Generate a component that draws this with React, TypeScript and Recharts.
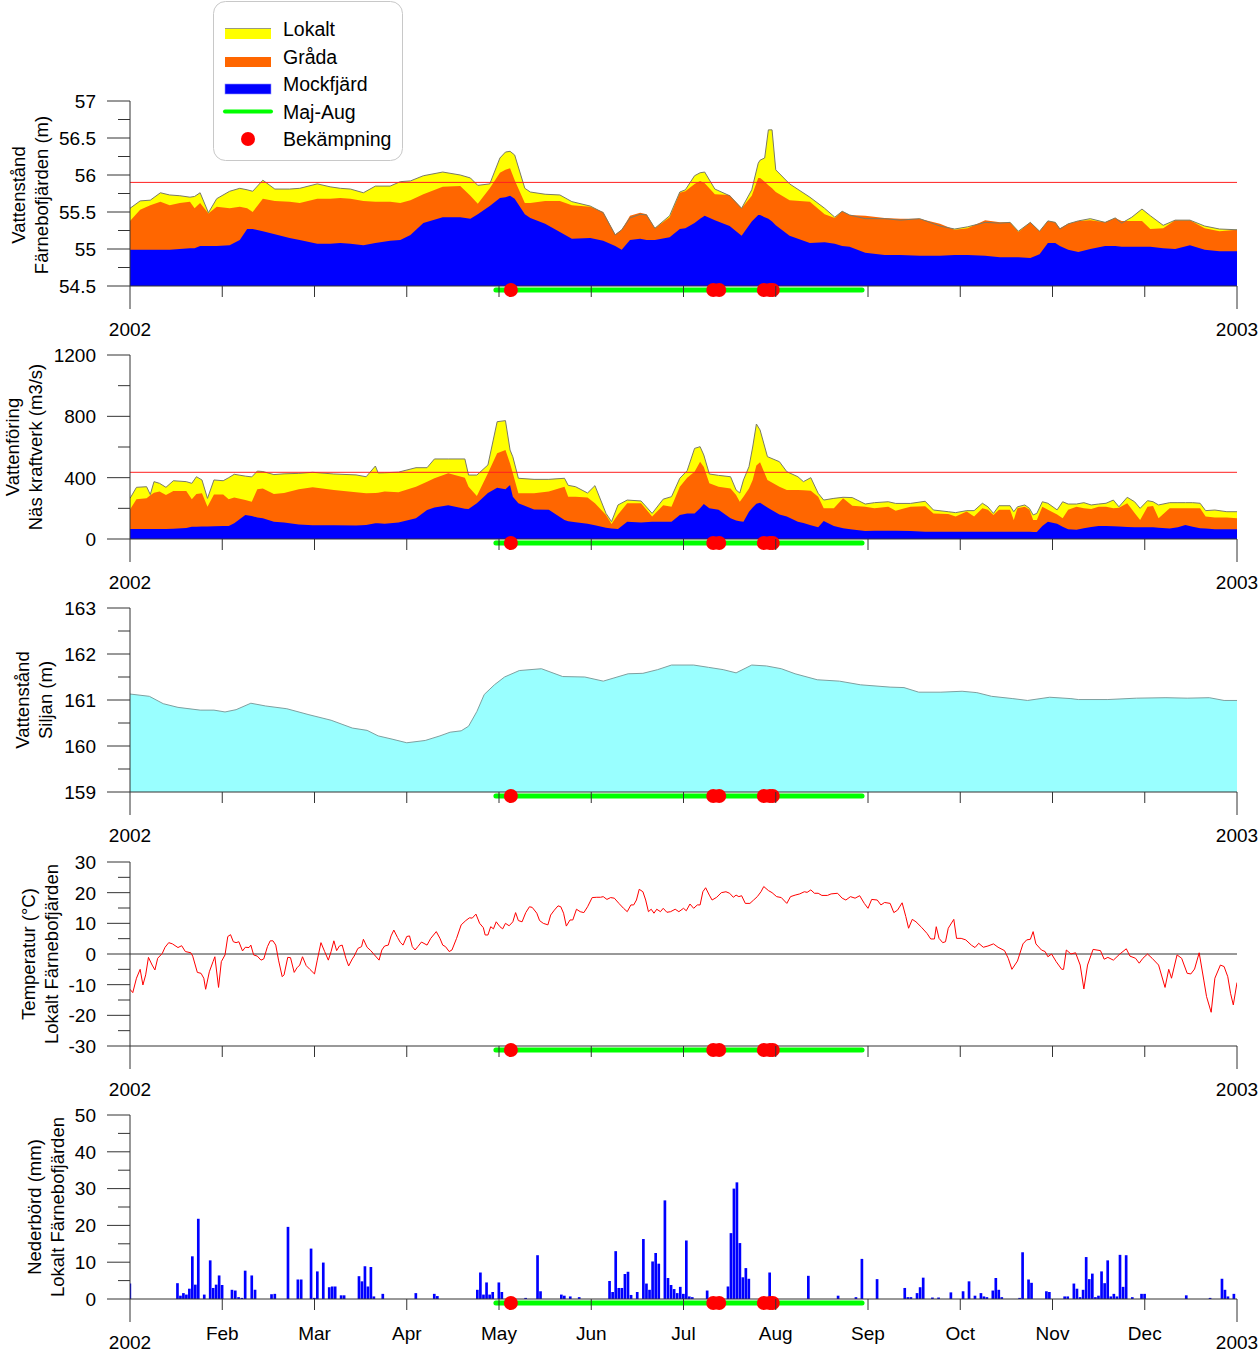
import React from 'react';
import { ComposedChart, Area, Line, Bar, XAxis, YAxis, ReferenceLine, ReferenceDot } from 'recharts';

const FONT = '"Liberation Sans", Arial, Helvetica, sans-serif';
const AXIS = '#333333';

// time axis: each month drawn equally wide, t = months since 1 Jan 2002
const MONTH_DAYS = [31, 28, 31, 30, 31, 30, 31, 31, 30, 31, 30, 31];
const MONTH_TICKS = [0, 1, 2, 3, 4, 5, 6, 7, 8, 9, 10, 11, 12];
const MONTH_LABELS = ['2002', 'Feb', 'Mar', 'Apr', 'May', 'Jun', 'Jul', 'Aug', 'Sep', 'Oct', 'Nov', 'Dec', '2003'];
const monthPos = (md: string) => {
  const [m, d] = md.split('-').map(Number);
  return m - 1 + (d - 1) / MONTH_DAYS[m - 1];
};

const majAug = ['04-30', '08-30'];
const treatDates = ['05-05', '07-11', '07-13', '07-28', '07-30', '07-31'];
const legendNames = ['Lokalt', 'Gråda', 'Mockfjärd', 'Maj-Aug', 'Bekämpning'];

// ---- Vattenstånd Färnebofjärden (m)
const farnLimit = 55.9;
const p1T = [0, 0.11, 0.22, 0.33, 0.43, 0.54, 0.65, 0.70, 0.76, 0.85,
  0.94, 1.08, 1.19, 1.27, 1.33, 1.44, 1.57, 1.73, 1.84, 2.03,
  2.17, 2.28, 2.39, 2.53, 2.66, 2.82, 2.93, 3.04, 3.18, 3.39,
  3.58, 3.69, 3.77, 3.90, 4.01, 4.07, 4.12, 4.17, 4.28, 4.34,
  4.50, 4.66, 4.79, 4.99, 5.13, 5.26, 5.33, 5.42, 5.53, 5.60,
  5.69, 5.85, 5.96, 6.02, 6.12, 6.18, 6.23, 6.34, 6.50, 6.63,
  6.74, 6.81, 6.83, 6.88, 6.92, 6.96, 7.00, 7.15, 7.37, 7.53,
  7.64, 7.72, 7.80, 7.97, 8.18, 8.35, 8.56, 8.78, 8.94, 9.08,
  9.27, 9.43, 9.54, 9.63, 9.76, 9.86, 9.95, 10.03, 10.08, 10.17,
  10.28, 10.41, 10.57, 10.68, 10.75, 10.86, 10.97, 11.06, 11.20, 11.33,
  11.49, 11.65, 11.81, 12];
const p1Lokalt = [55.55, 55.65, 55.66, 55.76, 55.73, 55.72, 55.70, 55.71, 55.76, 55.49,
  55.68, 55.78, 55.82, 55.80, 55.78, 55.93, 55.81, 55.81, 55.82, 55.88,
  55.84, 55.82, 55.81, 55.76, 55.85, 55.85, 55.91, 55.92, 55.99, 56.04,
  56.00, 55.96, 55.86, 55.88, 56.23, 56.31, 56.32, 56.27, 55.82, 55.77,
  55.74, 55.73, 55.64, 55.58, 55.49, 55.19, 55.26, 55.42, 55.47, 55.46,
  55.28, 55.45, 55.77, 55.80, 55.99, 56.03, 56.04, 55.81, 55.72, 55.55,
  55.80, 56.16, 56.20, 56.23, 56.61, 56.61, 56.07, 55.88, 55.70, 55.55,
  55.43, 55.51, 55.46, 55.41, 55.41, 55.39, 55.41, 55.31, 55.27, 55.30,
  55.36, 55.35, 55.36, 55.24, 55.36, 55.24, 55.38, 55.36, 55.27, 55.34,
  55.38, 55.41, 55.36, 55.42, 55.35, 55.43, 55.54, 55.45, 55.32, 55.39,
  55.39, 55.31, 55.27, 55.26];
const p1Grada = [55.38, 55.53, 55.59, 55.64, 55.59, 55.62, 55.64, 55.55, 55.62, 55.48,
  55.57, 55.55, 55.57, 55.55, 55.50, 55.68, 55.65, 55.64, 55.62, 55.68,
  55.68, 55.69, 55.68, 55.65, 55.64, 55.64, 55.62, 55.66, 55.74, 55.84,
  55.85, 55.72, 55.61, 55.82, 56.03, 56.07, 56.09, 55.93, 55.62, 55.62,
  55.65, 55.65, 55.59, 55.57, 55.50, 55.20, 55.26, 55.45, 55.49, 55.47,
  55.28, 55.43, 55.76, 55.78, 55.88, 55.92, 55.89, 55.74, 55.73, 55.55,
  55.72, 55.96, 55.96, 55.91, 55.86, 55.82, 55.77, 55.66, 55.64, 55.47,
  55.42, 55.51, 55.46, 55.45, 55.42, 55.41, 55.41, 55.34, 55.26, 55.28,
  55.39, 55.36, 55.36, 55.23, 55.36, 55.24, 55.38, 55.36, 55.28, 55.34,
  55.38, 55.39, 55.36, 55.42, 55.38, 55.38, 55.38, 55.27, 55.28, 55.39,
  55.39, 55.28, 55.24, 55.26];
const p1Mock = [54.99, 54.99, 54.99, 54.99, 54.99, 55.00, 55.01, 55.01, 55.04, 55.04,
  55.04, 55.05, 55.12, 55.27, 55.27, 55.24, 55.20, 55.15, 55.12, 55.07,
  55.07, 55.08, 55.07, 55.05, 55.08, 55.11, 55.12, 55.19, 55.35, 55.43,
  55.43, 55.41, 55.47, 55.58, 55.69, 55.70, 55.72, 55.68, 55.47, 55.42,
  55.34, 55.23, 55.14, 55.15, 55.11, 55.04, 54.99, 55.12, 55.14, 55.12,
  55.12, 55.16, 55.27, 55.28, 55.35, 55.41, 55.45, 55.39, 55.31, 55.18,
  55.37, 55.46, 55.46, 55.43, 55.41, 55.37, 55.32, 55.18, 55.08, 55.09,
  55.07, 55.04, 55.03, 54.95, 54.92, 54.92, 54.91, 54.91, 54.92, 54.92,
  54.91, 54.89, 54.89, 54.89, 54.88, 54.93, 55.08, 55.08, 55.04, 54.99,
  54.96, 55.00, 55.04, 55.04, 55.03, 55.03, 55.03, 55.03, 55.01, 55.00,
  55.05, 54.99, 54.97, 54.97];

// ---- Vattenföring Näs kraftverk (m3/s)
const nasLimit = 435;
const p2T = [0, 0.07, 0.18, 0.22, 0.26, 0.32, 0.39, 0.47, 0.61, 0.67,
  0.72, 0.78, 0.84, 0.91, 1.01, 1.07, 1.13, 1.25, 1.32, 1.38,
  1.44, 1.56, 1.67, 1.83, 1.98, 2.21, 2.45, 2.56, 2.66, 2.69,
  2.76, 2.91, 3.10, 3.22, 3.30, 3.45, 3.63, 3.67, 3.76, 3.88,
  3.98, 4.07, 4.12, 4.15, 4.21, 4.38, 4.54, 4.71, 4.75, 4.83,
  4.96, 5.04, 5.16, 5.22, 5.29, 5.39, 5.54, 5.66, 5.78, 5.87,
  5.96, 6.04, 6.12, 6.18, 6.22, 6.28, 6.38, 6.51, 6.57, 6.61,
  6.65, 6.71, 6.75, 6.79, 6.83, 6.91, 7.04, 7.12, 7.24, 7.30,
  7.38, 7.46, 7.52, 7.63, 7.73, 7.83, 7.97, 8.07, 8.22, 8.30,
  8.46, 8.62, 8.71, 8.87, 8.95, 9.07, 9.15, 9.24, 9.30, 9.36,
  9.42, 9.54, 9.58, 9.62, 9.70, 9.75, 9.79, 9.83, 9.89, 9.95,
  10.05, 10.11, 10.17, 10.26, 10.34, 10.42, 10.50, 10.58, 10.66, 10.72,
  10.81, 10.89, 10.95, 11.03, 11.09, 11.15, 11.27, 11.36, 11.44, 11.52,
  11.60, 11.66, 11.76, 11.89, 12];
const p2Lokalt = [265, 337, 341, 290, 374, 363, 337, 380, 374, 363,
  406, 385, 265, 385, 380, 400, 422, 410, 405, 443,
  440, 420, 425, 428, 435, 424, 418, 406, 476, 431,
  432, 436, 465, 465, 522, 522, 522, 417, 417, 483,
  765, 772, 580, 536, 396, 389, 389, 396, 350, 341,
  300, 348, 167, 113, 222, 254, 248, 167, 260, 276,
  396, 446, 591, 602, 548, 424, 415, 406, 320, 300,
  385, 472, 600, 750, 711, 537, 504, 439, 406, 374,
  400, 298, 254, 265, 272, 270, 228, 237, 243, 232,
  232, 246, 189, 178, 172, 185, 185, 233, 210, 167,
  217, 217, 178, 210, 222, 200, 157, 167, 243, 233,
  190, 243, 228, 228, 237, 222, 228, 233, 254, 210,
  272, 243, 200, 250, 243, 222, 237, 237, 237, 237,
  233, 185, 189, 178, 178];
const p2Grada = [193, 259, 265, 285, 302, 309, 287, 313, 313, 259,
  293, 298, 211, 291, 291, 260, 270, 254, 243, 324,
  330, 293, 300, 324, 337, 320, 305, 298, 300, 302,
  310, 305, 340, 374, 396, 428, 400, 341, 280, 428,
  559, 580, 493, 428, 298, 298, 309, 341, 276, 276,
  270, 233, 157, 98, 160, 233, 233, 146, 220, 210,
  341, 400, 439, 504, 470, 363, 341, 330, 287, 243,
  275, 330, 385, 480, 500, 385, 341, 320, 320, 318,
  315, 276, 200, 200, 265, 217, 211, 200, 211, 185,
  211, 214, 167, 163, 146, 180, 146, 200, 190, 157,
  190, 190, 124, 200, 211, 190, 124, 124, 211, 190,
  160, 135, 190, 211, 200, 195, 211, 211, 200, 203,
  233, 170, 124, 210, 215, 135, 200, 200, 200, 200,
  200, 146, 140, 140, 135];
const p2Mock = [65, 65, 65, 65, 65, 65, 65, 67, 72, 80,
  80, 82, 82, 83, 85, 85, 102, 157, 150, 140,
  135, 113, 107, 95, 89, 90, 88, 92, 102, 102,
  100, 108, 135, 189, 205, 220, 198, 196, 233, 300,
  335, 325, 352, 276, 233, 193, 190, 124, 115, 109,
  100, 90, 74, 68, 66, 112, 107, 112, 113, 113,
  157, 167, 167, 200, 228, 200, 190, 135, 120, 115,
  113, 178, 205, 230, 237, 205, 160, 146, 113, 105,
  90, 76, 117, 85, 70, 62, 52, 53, 54, 54,
  52, 48, 48, 48, 48, 48, 48, 48, 48, 48,
  48, 47, 47, 47, 47, 47, 46, 46, 85, 113,
  100, 80, 63, 60, 70, 78, 85, 85, 83, 82,
  78, 76, 76, 76, 76, 74, 68, 76, 91, 80,
  70, 68, 63, 63, 63];

// ---- Vattenstånd Siljan (m)
const p3T = [0, 0.21, 0.36, 0.52, 0.76, 0.91, 1.03, 1.15, 1.31, 1.47,
  1.70, 1.94, 2.18, 2.41, 2.57, 2.69, 2.84, 3.00, 3.20, 3.36,
  3.47, 3.59, 3.67, 3.76, 3.84, 3.95, 4.06, 4.22, 4.46, 4.69,
  4.93, 5.13, 5.40, 5.56, 5.72, 5.87, 6.11, 6.27, 6.43, 6.57,
  6.74, 6.90, 7.06, 7.21, 7.45, 7.69, 7.92, 8.24, 8.39, 8.55,
  8.79, 9.02, 9.18, 9.34, 9.57, 9.73, 9.97, 10.2, 10.28, 10.6,
  10.91, 11.23, 11.46, 11.7, 11.86, 12];
const p3Level = [161.13, 161.08, 160.92, 160.84, 160.78, 160.78, 160.74, 160.79, 160.93, 160.87,
  160.81, 160.68, 160.56, 160.39, 160.34, 160.22, 160.15, 160.07, 160.12, 160.22,
  160.30, 160.33, 160.43, 160.75, 161.12, 161.33, 161.50, 161.64, 161.68, 161.51,
  161.50, 161.41, 161.57, 161.58, 161.66, 161.76, 161.76, 161.71, 161.66, 161.59,
  161.76, 161.74, 161.68, 161.57, 161.44, 161.41, 161.33, 161.28, 161.27, 161.17,
  161.17, 161.19, 161.16, 161.08, 161.03, 160.99, 161.06, 161.03, 161.01, 161.01,
  161.04, 161.05, 161.04, 161.05, 160.99, 160.99];

// ---- Temperatur (°C)
const tempT = [0.00, 0.03, 0.07, 0.11, 0.14, 0.17, 0.20, 0.24, 0.27, 0.30,
  0.35, 0.38, 0.42, 0.46, 0.52, 0.56, 0.60, 0.66, 0.68, 0.73,
  0.77, 0.80, 0.82, 0.86, 0.90, 0.92, 0.96, 0.99, 1.03, 1.06,
  1.09, 1.12, 1.15, 1.18, 1.22, 1.25, 1.29, 1.31, 1.34, 1.38,
  1.42, 1.45, 1.49, 1.52, 1.55, 1.58, 1.61, 1.65, 1.67, 1.71,
  1.74, 1.78, 1.81, 1.84, 1.87, 1.91, 1.95, 2.00, 2.03, 2.07,
  2.11, 2.15, 2.18, 2.21, 2.24, 2.27, 2.30, 2.34, 2.37, 2.41,
  2.43, 2.47, 2.51, 2.53, 2.57, 2.61, 2.65, 2.70, 2.73, 2.76,
  2.80, 2.83, 2.86, 2.90, 2.93, 2.96, 3.00, 3.03, 3.06, 3.09,
  3.12, 3.16, 3.22, 3.26, 3.32, 3.36, 3.39, 3.42, 3.46, 3.49,
  3.54, 3.59, 3.64, 3.68, 3.71, 3.75, 3.79, 3.83, 3.85, 3.88,
  3.91, 3.94, 3.97, 4.01, 4.04, 4.07, 4.11, 4.15, 4.18, 4.21,
  4.25, 4.29, 4.33, 4.36, 4.41, 4.44, 4.48, 4.53, 4.56, 4.60,
  4.64, 4.67, 4.70, 4.73, 4.77, 4.80, 4.84, 4.88, 4.92, 4.96,
  5.01, 5.06, 5.10, 5.13, 5.17, 5.21, 5.25, 5.30, 5.35, 5.39,
  5.43, 5.46, 5.49, 5.52, 5.56, 5.59, 5.62, 5.65, 5.68, 5.71,
  5.75, 5.78, 5.82, 5.86, 5.91, 5.95,
  6.00, 6.03, 6.07, 6.11, 6.15, 6.18, 6.21, 6.24, 6.28, 6.31,
  6.36, 6.41, 6.46, 6.50, 6.54, 6.57, 6.60, 6.63, 6.67, 6.72,
  6.76, 6.80, 6.84, 6.87, 6.92, 6.96, 7.01, 7.06, 7.12, 7.16,
  7.21, 7.26, 7.31, 7.34, 7.38, 7.42, 7.46, 7.50, 7.56, 7.60,
  7.67, 7.72, 7.76, 7.81, 7.86, 7.91, 7.96, 8.00, 8.04, 8.10,
  8.14, 8.18, 8.24, 8.28, 8.32, 8.37, 8.41, 8.44, 8.48, 8.52,
  8.58, 8.64, 8.68, 8.72, 8.74, 8.77, 8.81, 8.84, 8.87, 8.93,
  8.96, 9.01, 9.06, 9.12, 9.16, 9.20, 9.25, 9.30, 9.36, 9.41,
  9.48, 9.52, 9.56, 9.62, 9.68, 9.72, 9.76, 9.79, 9.82, 9.88,
  9.92, 9.95, 9.99, 10.04, 10.10, 10.12, 10.15, 10.20, 10.25, 10.30,
  10.34, 10.38, 10.44, 10.52, 10.56, 10.60, 10.66, 10.73, 10.80, 10.84,
  10.90, 10.94, 10.98, 11.03, 11.08, 11.15, 11.22, 11.26, 11.29, 11.35,
  11.40, 11.46, 11.50, 11.54, 11.59, 11.64, 11.67, 11.72, 11.76, 11.82,
  11.86, 11.90, 11.93, 11.96, 12];
const tempC = [-11.5, -12.6, -7.9, -5, -10.1, -6.8, -1.1, -3.6, -5.2, -1.4,
  0.2, 2.2, 3.7, 3.3, 2.1, 2.7, 0.8, 0.4, -0.7, -6,
  -6.3, -7.9, -11.5, -5.8, -2.5, -0.9, -10.9, -2.5, -0.3, 5.7,
  6.3, 4, 3.7, 4, 1, 2.2, 2.1, 2.9, -0.3, -0.7,
  -2, -1.6, 2.4, 4.3, 4.3, 2.9, -2, -7.4, -6.8, -1.1,
  -1.2, -6, -4.5, -3.6, -0.9, -3.8, -5, -6.5, -2, 3.7,
  0.8, -2, 0.8, 4.3, 1.1, 2.6, 2.9, -1.4, -3.9, -1.6,
  -0.7, 1.8, 2.4, 4.8, 2.2, 1.1, -0.3, -2, 1.3, 2.6,
  2.9, 5.9, 7.8, 5.4, 3.8, 2.9, 5.7, 5.9, 2.4, 1.3,
  2.4, 3.9, 2.9, 5.1, 7.3, 5.1, 2.9, 2.4, 0.8, 1.3,
  5.1, 9.5, 10.9, 11.8, 11.7, 13, 10, 8.6, 6.2, 6.2,
  8.9, 8.2, 10.5, 8.9, 8.2, 10, 9.2, 10.5, 13.5, 10.9,
  10.5, 13.5, 15.4, 15.2, 13.3, 10.9, 10, 9.5, 12.7, 14.3,
  15.7, 15.4, 13.3, 9.1, 11.1, 11.1, 14.6, 13.8, 13.5, 15.4,
  18.4, 18.5, 18.5, 18.7, 17.8, 18.4, 18.2, 16.5, 14.9, 13.8,
  16, 16, 17.6, 21.1, 20.3, 17.6, 13.8, 14.6, 13.3, 14.6,
  13.8, 14.9, 13.6, 13.8, 14.6, 13.8,
  14.9, 14.1, 16.3, 14.9, 16, 16, 20.3, 21.6, 19.2, 17.6,
  18.5, 20, 20.3, 19.8, 18.5, 19.2, 18.7, 19, 16.5, 16.5,
  17.6, 18.7, 20.3, 22, 20.7, 20, 18.7, 18.4, 16.5, 18.7,
  19.2, 19.6, 20.3, 20.1, 20.9, 19.8, 19.8, 19.1, 19.1, 19.6,
  19.8, 18.2, 17.6, 18.7, 18.2, 19, 16.5, 14.9, 17.8, 17.6,
  16, 16.8, 16.5, 13.5, 14.3, 16.7, 12.2, 8.4, 11.3, 10.5,
  8.7, 6.7, 4.9, 4.9, 8.9, 5.1, 3.7, 4, 8.4, 11.3,
  5.1, 5.1, 4.6, 2.9, 2.1, 3.5, 2.2, 2.6, 3.3, 2.2,
  1.1, -1.4, -5, -2.3, 3.3, 4.6, 4.8, 7.3, 3.3, 1.3,
  0.8, -0.9, 0, -2.5, -5, -5, 1.3, 0, 0.4, -3.6,
  -11.4, -3.6, 1.5, 1.1, -1.7, -1.1, -2, 0, 1.7, -0.7,
  -1.4, -3, -1.4, 0, -1.4, -3.6, -10.9, -5, -7.9, -0.3,
  -1.4, -6.3, -6.5, -4.9, 0.4, -8.5, -13.9, -19, -7.9, -3.6,
  -4.1, -7.4, -12.8, -16.6, -9.3];

// ---- Nederbörd (mm), daily
const rainDates = ['01-01', '01-17', '01-18', '01-19', '01-20', '01-21', '01-22', '01-23', '01-24', '01-26',
  '01-28', '01-29', '01-30', '01-31', '02-01', '02-04', '02-05', '02-06', '02-07', '02-08',
  '02-10', '02-11', '02-16', '02-17', '02-21', '02-24', '02-25', '02-28', '03-01', '03-02',
  '03-04', '03-06', '03-07', '03-08', '03-10', '03-11', '03-16', '03-17', '03-18', '03-19',
  '03-20', '03-21', '03-24', '04-04', '04-10', '04-11', '04-24', '04-25', '04-26', '04-27',
  '04-28', '04-29', '05-01', '05-02', '05-10', '05-14', '05-15', '05-22', '05-23', '05-25',
  '05-28', '06-07', '06-08', '06-09', '06-10', '06-11', '06-12', '06-13', '06-14', '06-16',
  '06-18', '06-19', '06-20', '06-21', '06-22', '06-23', '06-25', '06-26', '06-27', '06-28',
  '06-29', '06-30', '07-01', '07-02', '07-03', '07-04', '07-09', '07-16', '07-17', '07-18',
  '07-19', '07-20', '07-21', '07-22', '07-23', '07-30', '08-12', '08-22', '08-28', '08-30',
  '09-04', '09-13', '09-14', '09-15', '09-17', '09-18', '09-19', '09-22', '09-24', '09-28',
  '10-02', '10-04', '10-06', '10-08', '10-09', '10-10', '10-12', '10-13', '10-14', '10-15',
  '10-21', '10-22', '10-24', '10-25', '10-30', '10-31', '11-05', '11-06', '11-08', '11-09',
  '11-10', '11-11', '11-12', '11-13', '11-14', '11-15', '11-16', '11-17', '11-18', '11-19',
  '11-20', '11-21', '11-22', '11-23', '11-24', '11-25', '11-27', '11-30', '12-01', '12-15',
  '12-23', '12-27', '12-28', '12-29', '12-31'];
const rainMm = [4.2, 4.3, 0.9, 1.6, 1.2, 2.8, 11.6, 3.9, 21.8, 1.2,
  10.5, 3.0, 3.9, 6.4, 3.8, 2.5, 2.3, 0.5, 0.3, 7.7,
  6.4, 2.5, 1.3, 1.4, 19.6, 5.3, 5.3, 13.7, 0.3, 7.5,
  9.9, 3.2, 3.4, 3.4, 1.0, 1.0, 6.2, 4.8, 8.9, 3.4,
  8.7, 0.7, 1.4, 1.6, 1.4, 0.8, 2.5, 7.2, 1.2, 4.5,
  1.2, 1.9, 4.5, 1.9, 0.3, 11.9, 2.1, 1.2, 0.9, 0.7,
  0.5, 4.9, 1.9, 13.0, 3.0, 3.0, 6.8, 7.4, 1.1, 1.9,
  16.3, 4.2, 2.5, 10.2, 12.5, 9.6, 26.8, 5.7, 3.8, 2.7,
  1.6, 3.3, 1.4, 15.9, 0.7, 0.5, 2.3, 3.4, 17.9, 30.0,
  31.7, 15.2, 5.9, 8.4, 5.5, 7.2, 6.3, 0.9, 0.5, 10.9,
  5.4, 3.0, 0.5, 0.5, 1.6, 3.2, 5.8, 0.4, 0.4, 1.8,
  2.1, 4.8, 0.9, 1.6, 0.7, 0.5, 2.3, 5.7, 2.5, 0.5,
  0.3, 12.7, 5.3, 4.4, 2.1, 1.9, 0.7, 0.7, 4.2, 2.8,
  0.5, 2.5, 11.4, 5.4, 6.9, 0.5, 0.9, 7.5, 4.3, 10.5,
  0.7, 1.4, 0.7, 12.0, 3.3, 11.9, 0.5, 1.4, 1.4, 1.0,
  0.3, 5.5, 2.5, 0.7, 1.4];

// y axis ticks
const p1Ticks = [54.5, 54.75, 55, 55.25, 55.5, 55.75, 56, 56.25, 56.5, 56.75, 57];
const p2Ticks = [0, 200, 400, 600, 800, 1000, 1200];
const p3Ticks = [159, 159.5, 160, 160.5, 161, 161.5, 162, 162.5, 163];
const p4Ticks = [-30, -25, -20, -15, -10, -5, 0, 5, 10, 15, 20, 25, 30];
const p5Ticks = [0, 5, 10, 15, 20, 25, 30, 35, 40, 45, 50];

const p1Rows = p1T.map((t, i) => ({ t, lokalt: p1Lokalt[i], grada: p1Grada[i], mock: p1Mock[i] }));
const p2Rows = p2T.map((t, i) => ({ t, lokalt: p2Lokalt[i], grada: p2Grada[i], mock: p2Mock[i] }));
const p3Rows = p3T.map((t, i) => ({ t, level: p3Level[i] }));
const p4Rows = tempT.map((t, i) => ({ t, temp: tempC[i] }));
const p5Rows = rainDates.map((d, i) => ({ t: monthPos(d), mm: rainMm[i] }));

const PAGE_W = 1259;
const PLOT_LEFT = 130;
const PLOT_RIGHT = 1237;
const TOP_PAD = 10;
const X_AXIS_H = 55;
const Y_AXIS_W = 60;
const TICK_FONT = 19;

const yTick = (step: number) => (p: any) => {
  const { x, y, payload } = p;
  const v = payload.value;
  const major = Math.abs(v / step - Math.round(v / step)) < 1e-6;
  return (
    <g>
      <line x1={x - (major ? 23 : 12)} x2={x} y1={y} y2={y} stroke={AXIS} />
      {major && (
        <text x={x - 34} y={y} dy="0.36em" textAnchor="end" fontSize={TICK_FONT} fontFamily={FONT} fill="#000">
          {String(v)}
        </text>
      )}
    </g>
  );
};

const xTick = (monthNames: boolean) => (p: any) => {
  const { x, y, payload } = p;
  const v = payload.value;
  const end = v === 0 || v === 12;
  return (
    <g>
      <line x1={x} x2={x} y1={y} y2={y + (end ? 23 : 11)} stroke={AXIS} />
      {(end || monthNames) && (
        <text x={x} y={y + (end ? 43 : 34)} dy="0.36em" textAnchor="middle" fontSize={TICK_FONT} fontFamily={FONT} fill="#000">
          {MONTH_LABELS[v]}
        </text>
      )}
    </g>
  );
};

const frame = (domain: [number, number], ticks: number[], step: number, monthNames: boolean) => [
  <XAxis key="x" dataKey="t" type="number" domain={[0, 12]} ticks={MONTH_TICKS} interval={0}
    height={X_AXIS_H} tickSize={0} tickMargin={0} tickLine={false}
    axisLine={{ stroke: AXIS }} tick={xTick(monthNames)} allowDataOverflow />,
  <YAxis key="y" type="number" domain={domain} ticks={ticks} interval={0} width={Y_AXIS_W}
    tickSize={0} tickMargin={0} tickLine={false} axisLine={{ stroke: AXIS }} tick={yTick(step)} allowDataOverflow />,
];

const markers = (base: number) => [
  <ReferenceLine key="maj" segment={[{ x: monthPos(majAug[0]), y: base }, { x: monthPos(majAug[1]), y: base }]}
    stroke="#00ff00"
    shape={(p: any) => (
      <line x1={p.x1} y1={p.y1 + 4} x2={p.x2} y2={p.y2 + 4} stroke="#00ff00" strokeWidth={5} strokeLinecap="round" />
    )} />,
  ...treatDates.map((d) => (
    <ReferenceDot key={d} x={monthPos(d)} y={base} r={7}
      shape={(p: any) => <circle cx={p.cx} cy={p.cy + 4} r={7} fill="#ff0000" />} />
  )),
];

const Panel = ({ plotTop, plotHeight, data, children }: any) => (
  <div style={{ position: 'absolute', left: 0, top: plotTop - TOP_PAD }}>
    <ComposedChart width={PAGE_W} height={TOP_PAD + plotHeight + X_AXIS_H} data={data}
      margin={{ top: TOP_PAD, right: PAGE_W - PLOT_RIGHT, bottom: 0, left: PLOT_LEFT - Y_AXIS_W }}>
      {children}
    </ComposedChart>
  </div>
);

const AxisTitle = ({ lines, cx, cy }: { lines: string[]; cx: number; cy: number }) => (
  <div style={{
    position: 'absolute', left: cx, top: cy, transform: 'translate(-50%, -50%) rotate(-90deg)',
    whiteSpace: 'nowrap', textAlign: 'center', fontFamily: FONT, fontSize: 18.5, lineHeight: '23px', color: '#000',
  }}>
    {lines[0]}<br />{lines[1]}
  </div>
);

const ChartKey = () => (
  <svg width={420} height={170} style={{ position: 'absolute', left: 0, top: 0 }}>
    <rect x={213.5} y={1.5} width={189} height={159} rx={12} fill="#fff" stroke="#c8c8c8" />
    <rect x={225} y={28} width={46} height={11} fill="#ffff00" />
    <line x1={225} x2={271} y1={28.5} y2={28.5} stroke="#9a9a80" />
    <rect x={225} y={57} width={46} height={10} fill="#ff6600" />
    <rect x={225} y={84} width={46} height={10} fill="#0000ff" stroke="#9090ff" strokeWidth={0.6} />
    <line x1={225} x2={271} y1={111.5} y2={111.5} stroke="#00ff00" strokeWidth={4} strokeLinecap="round" />
    <circle cx={248} cy={139} r={7} fill="#ff0000" />
    {legendNames.map((n, i) => (
      <text key={n} x={283} y={29 + i * 27.5} dy="0.36em" fontSize={19.5} fontFamily={FONT} fill="#000">{n}</text>
    ))}
  </svg>
);

export default function App() {
  return (
    <div style={{ position: 'absolute', left: 0, top: 0, width: PAGE_W, height: 1358, overflow: 'hidden', background: '#fff' }}>
      <Panel plotTop={101} plotHeight={185} data={p1Rows}>
        {frame([54.5, 57], p1Ticks, 0.5, false)}
        <Area type="linear" dataKey="lokalt" baseValue={54.5} fill="#ffff00" fillOpacity={1} stroke="none" isAnimationActive={false} />
        <Area type="linear" dataKey="grada" baseValue={54.5} fill="#ff6600" fillOpacity={1} stroke="none" isAnimationActive={false} />
        <Area type="linear" dataKey="mock" baseValue={54.5} fill="#0000ff" fillOpacity={1} stroke="none" isAnimationActive={false} />
        <Line type="linear" dataKey="lokalt" stroke="#7a7a66" strokeWidth={1} dot={false} isAnimationActive={false} />
        <ReferenceLine y={farnLimit} stroke="#ff2020" strokeWidth={1} />
        {markers(54.5)}
      </Panel>

      <Panel plotTop={355} plotHeight={184} data={p2Rows}>
        {frame([0, 1200], p2Ticks, 400, false)}
        <Area type="linear" dataKey="lokalt" baseValue={0} fill="#ffff00" fillOpacity={1} stroke="none" isAnimationActive={false} />
        <Area type="linear" dataKey="grada" baseValue={0} fill="#ff6600" fillOpacity={1} stroke="none" isAnimationActive={false} />
        <Area type="linear" dataKey="mock" baseValue={0} fill="#0000ff" fillOpacity={1} stroke="none" isAnimationActive={false} />
        <Line type="linear" dataKey="lokalt" stroke="#7a7a66" strokeWidth={1} dot={false} isAnimationActive={false} />
        <ReferenceLine y={nasLimit} stroke="#ff2020" strokeWidth={1} />
        {markers(0)}
      </Panel>

      <Panel plotTop={608} plotHeight={184} data={p3Rows}>
        {frame([159, 163], p3Ticks, 1, false)}
        <Area type="linear" dataKey="level" baseValue={159} fill="#99ffff" fillOpacity={1} stroke="#7f9f9f" strokeWidth={1} isAnimationActive={false} />
        {markers(159)}
      </Panel>

      <Panel plotTop={862} plotHeight={184} data={p4Rows}>
        {frame([-30, 30], p4Ticks, 10, false)}
        <ReferenceLine y={0} stroke={AXIS} strokeWidth={1} />
        <Line type="linear" dataKey="temp" stroke="#ff0000" strokeWidth={1} dot={false} isAnimationActive={false} />
        {markers(-30)}
      </Panel>

      <Panel plotTop={1115} plotHeight={184} data={p5Rows}>
        {frame([0, 50], p5Ticks, 10, true)}
        <Bar dataKey="mm" fill="#0000ff" barSize={3} isAnimationActive={false} />
        {markers(0)}
      </Panel>

      <AxisTitle lines={['Vattenstånd', 'Färnebofjärden (m)']} cx={29.5} cy={195} />
      <AxisTitle lines={['Vattenföring', 'Näs kraftverk (m3/s)']} cx={23.5} cy={447} />
      <AxisTitle lines={['Vattenstånd', 'Siljan (m)']} cx={33.5} cy={700} />
      <AxisTitle lines={['Temperatur (°C)', 'Lokalt Färnebofjärden']} cx={39.5} cy={954} />
      <AxisTitle lines={['Nederbörd (mm)', 'Lokalt Färnebofjärden']} cx={46} cy={1207} />

      <ChartKey />
    </div>
  );
}
